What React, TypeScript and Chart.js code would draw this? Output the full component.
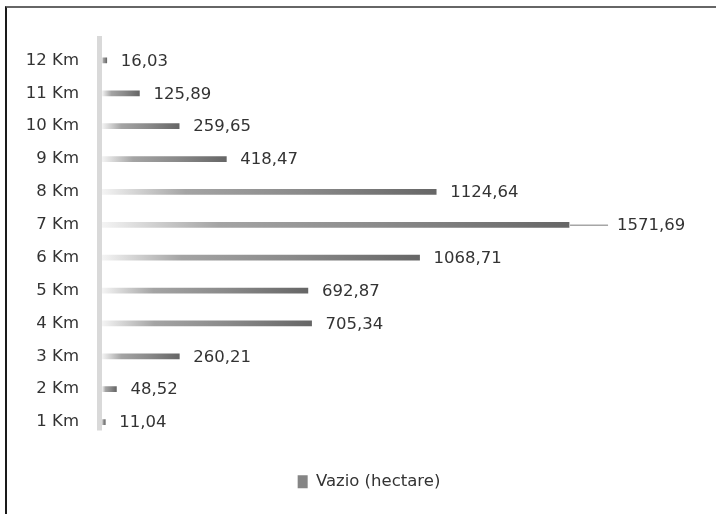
import React, { useEffect, useRef } from "react";
import { Chart, registerables } from "chart.js";

Chart.register(...registerables);

const categories = ["1 Km", "2 Km", "3 Km", "4 Km", "5 Km", "6 Km", "7 Km", "8 Km", "9 Km", "10 Km", "11 Km", "12 Km"];
const vazioValues = [11.04, 48.52, 260.21, 705.34, 692.87, 1068.71, 1571.69, 1124.64, 418.47, 259.65, 125.89, 16.03];
const seriesLabel = "Vazio (hectare)";

const FONT = "'DejaVu Sans', sans-serif";
const TEXT = "#333333";

const fmt = (v: number) => v.toFixed(2).replace(".", ",");

const decorPlugin = {
  id: "decor",
  beforeDatasetsDraw(chart: any) {
    const { ctx, chartArea } = chart;
    ctx.save();
    ctx.fillStyle = "#d9d9d9";
    ctx.fillRect(chartArea.left - 5, chartArea.top - 8, 5, chartArea.bottom - chartArea.top);
    ctx.restore();
  },
  afterDatasetsDraw(chart: any, _args: any, opts: any) {
    const { ctx } = chart;
    const meta = chart.getDatasetMeta(0);
    const data = chart.data.datasets[0].data as number[];
    ctx.save();
    ctx.font = `16.5px ${FONT}`;
    ctx.fillStyle = TEXT;
    ctx.textBaseline = "middle";
    ctx.textAlign = "left";
    meta.data.forEach((bar: any, i: number) => {
      const extra = (opts.leaders && opts.leaders[i]) || 0;
      const x = bar.x + 14 + extra;
      if (extra) {
        ctx.strokeStyle = "#a6a6a6";
        ctx.lineWidth = 1.5;
        ctx.beginPath();
        ctx.moveTo(bar.x + 1, bar.y + 0.5);
        ctx.lineTo(x - 9, bar.y + 0.5);
        ctx.stroke();
      }
      ctx.fillText(fmt(data[i]), x, bar.y + 1);
    });
    ctx.restore();
  },
};

export default function App() {
  const ref = useRef<HTMLCanvasElement | null>(null);

  useEffect(() => {
    if (!ref.current) return;
    const chart = new Chart(ref.current, {
      type: "bar",
      data: {
        labels: categories,
        datasets: [
          {
            label: seriesLabel,
            data: vazioValues,
            barThickness: 5,
            borderWidth: 0,
            backgroundColor: (c: any) => {
              const ch = c.chart;
              if (!ch.chartArea || c.type !== "data") return "#8a8a8a";
              const xs = ch.scales.x;
              const x0 = xs.getPixelForValue(0);
              const x1 = xs.getPixelForValue(c.raw);
              const g = ch.ctx.createLinearGradient(x0, 0, Math.max(x1, x0 + 1), 0);
              g.addColorStop(0, "#f4f4f4");
              g.addColorStop(0.25, "#a4a4a4");
              g.addColorStop(0.6, "#8a8a8a");
              g.addColorStop(1, "#666666");
              return g;
            },
          },
        ],
      },
      options: {
        indexAxis: "y",
        responsive: false,
        animation: false,
        devicePixelRatio: 1,
        layout: { padding: { left: 24, top: 44, right: 80, bottom: 14 } },
        scales: {
          x: {
            min: 0,
            max: 1797,
            display: true,
            grid: { display: false, drawTicks: false },
            border: { display: false },
            ticks: { display: false },
            afterFit: (s: any) => {
              s.height = 25;
            },
          },
          y: {
            reverse: true,
            grid: { display: false, drawTicks: false },
            border: { display: false },
            ticks: {
              padding: 23,
              color: TEXT,
              font: { family: FONT, size: 16.5 },
            },
            afterFit: (s: any) => {
              s.width = 78;
            },
          },
        },
        plugins: {
          tooltip: { enabled: false },
          legend: {
            display: true,
            position: "bottom",
            fullSize: false,
            labels: {
              boxWidth: 10,
              boxHeight: 13,
              padding: 10,
              color: TEXT,
              font: { family: FONT, size: 16.5 },
              generateLabels: () => [
                {
                  text: seriesLabel,
                  fillStyle: "#858585",
                  strokeStyle: "rgba(0,0,0,0)",
                  lineWidth: 0,
                  hidden: false,
                  datasetIndex: 0,
                  fontColor: TEXT,
                },
              ],
            },
          },
          decor: { leaders: { 6: 34 } },
        } as any,
      },
      plugins: [decorPlugin],
    } as any);
    return () => chart.destroy();
  }, []);

  return (
    <div style={{ position: "fixed", left: 0, top: 0, width: 716, height: 514, background: "#fff", overflow: "hidden" }}>
      <div
        style={{
          position: "absolute",
          left: 5,
          top: 6,
          width: 716,
          height: 520,
          borderLeft: "2px solid #1a1a1a",
          borderTop: "2px solid #666",
          boxSizing: "border-box",
        }}
      />
      <canvas ref={ref} width={716} height={514} style={{ position: "absolute", left: 0, top: 0 }} />
    </div>
  );
}
